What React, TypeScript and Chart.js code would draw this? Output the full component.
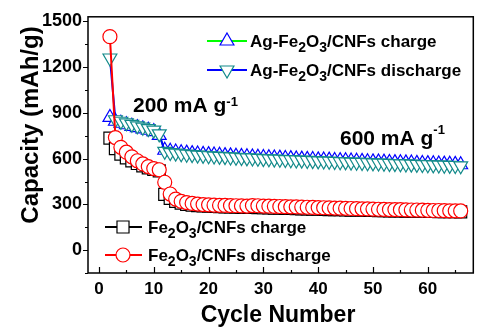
import React, { useEffect, useRef } from 'react';
import { Chart, registerables } from 'chart.js';
Chart.register(...registerables);

const cycles = [2,3,4,5,6,7,8,9,10,11,12,13,14,15,16,17,18,19,20,21,22,23,24,25,26,27,28,29,30,31,32,33,34,35,36,37,38,39,40,41,42,43,44,45,46,47,48,49,50,51,52,53,54,55,56,57,58,59,60,61,62,63,64,65,66];

const agCharge = [870,845,832,822,812,803,795,786,777,752,
  655,648,643,639,636,633,630,628,626,624,
  622,620,618,616,614,612,611,609,607,606,
  604,603,601,600,598,597,595,594,592,591,
  590,588,587,586,584,583,582,580,579,578,
  577,575,574,573,572,571,569,568,567,566,
  565,564,563,562,560];

const agDischarge = [1260,855,845,835,825,815,806,797,787,762,
  648,640,636,632,629,626,623,621,619,617,
  615,613,611,609,607,605,604,602,600,599,
  597,596,594,593,591,590,588,587,585,584,
  583,581,580,579,577,576,575,573,572,571,
  570,568,567,566,565,564,562,561,560,559,
  558,557,556,555,553];

const feCharge = [735,665,630,605,585,568,553,540,530,520,365,340,
  320,308,300,295,292,290,288,286,285,284,
  283,282,281,280,280,279,278,277,276,275,
  274,273,272,271,270,269,268,267,266,265,
  265,264,263,262,262,261,260,259,259,258,
  258,257,256,256,255,255,254,254,253,253,
  252,252,251];

const feDischarge = [1400,738,674,642,612,586,565,548,535,527,445,368,
  335,320,312,306,302,299,297,295,294,293,
  292,291,290,289,292,291,289,288,287,286,
  285,284,283,282,281,280,279,278,277,276,
  275,274,273,272,271,270,269,268,267,266,
  266,265,264,263,263,262,261,260,260,259,
  258,258,257];

const yMajorTicks = [0, 300, 600, 900, 1200, 1500];
const yMinorTicks = [-150, 150, 450, 750, 1050, 1350];
const xMajorTicks = [0, 10, 20, 30, 40, 50, 60];
const xMinorTicks = [5, 15, 25, 35, 45, 55, 65];

const FONT = '"Liberation Sans", Arial, sans-serif';

type Part = { t: string; sub?: boolean; sup?: boolean };

function drawRich(ctx: CanvasRenderingContext2D, parts: Part[], x: number, y: number, size: number, subSize: number, subShift: number, supShift: number) {
  let cx = x;
  ctx.textAlign = 'left';
  ctx.textBaseline = 'alphabetic';
  for (const p of parts) {
    const s = p.sub || p.sup ? subSize : size;
    ctx.font = `bold ${s}px ${FONT}`;
    const dy = p.sub ? subShift : p.sup ? -supShift : 0;
    ctx.fillText(p.t, cx, y + dy);
    cx += ctx.measureText(p.t).width;
  }
}

function drawMarker(ctx: CanvasRenderingContext2D, style: string, x: number, y: number, r: number, color: string) {
  ctx.save();
  ctx.beginPath();
  if (style === 'circle') {
    ctx.arc(x, y, r, 0, Math.PI * 2);
  } else if (style === 'rect') {
    const s = Math.SQRT1_2 * r;
    ctx.rect(x - s, y - s, 2 * s, 2 * s);
  } else if (style === 'triUp' || style === 'triDown') {
    let rad = style === 'triUp' ? 0 : Math.PI;
    for (let i = 0; i < 3; i++) {
      const px = x + Math.sin(rad) * r;
      const py = y - Math.cos(rad) * r;
      if (i === 0) ctx.moveTo(px, py); else ctx.lineTo(px, py);
      rad += (2 * Math.PI) / 3;
    }
    ctx.closePath();
  }
  ctx.fillStyle = '#ffffff';
  ctx.fill();
  ctx.strokeStyle = color;
  ctx.lineWidth = 1.2;
  ctx.stroke();
  ctx.restore();
}

const decoPlugin = {
  id: 'deco',
  afterDatasetsDraw(chart: any) {
    const ctx: CanvasRenderingContext2D = chart.ctx;
    const { left, right, top, bottom } = chart.chartArea;
    const xs = chart.scales.x;
    const ys = chart.scales.y;
    ctx.save();
    // frame
    ctx.strokeStyle = '#000';
    ctx.lineWidth = 1.5;
    ctx.strokeRect(left, top, right - left, bottom - top);
    // y ticks (outside)
    ctx.lineWidth = 1.2;
    ctx.beginPath();
    for (const v of yMajorTicks) {
      const py = Math.round(ys.getPixelForValue(v)) + 0.5;
      ctx.moveTo(left, py); ctx.lineTo(left - 5, py);
    }
    for (const v of yMinorTicks) {
      const py = Math.round(ys.getPixelForValue(v)) + 0.5;
      ctx.moveTo(left, py); ctx.lineTo(left - 3, py);
    }
    // x ticks (inside)
    for (const v of xMajorTicks) {
      const px = Math.round(xs.getPixelForValue(v)) + 0.5;
      ctx.moveTo(px, bottom); ctx.lineTo(px, bottom - 6);
    }
    for (const v of xMinorTicks) {
      const px = Math.round(xs.getPixelForValue(v)) + 0.5;
      ctx.moveTo(px, bottom); ctx.lineTo(px, bottom - 3);
    }
    ctx.stroke();

    ctx.fillStyle = '#000';
    // axis titles
    ctx.font = `bold 23px ${FONT}`;
    ctx.textAlign = 'center';
    ctx.textBaseline = 'alphabetic';
    ctx.fillText('Cycle Number', 278, 322);
    ctx.save();
    ctx.translate(38, 125);
    ctx.rotate(-Math.PI / 2);
    ctx.font = `bold 24px ${FONT}`;
    ctx.textAlign = 'center';
    ctx.fillText('Capacity (mAh/g)', 0, 0);
    ctx.restore();

    // annotations
    drawRich(ctx, [{ t: '200 mA g' }, { t: '-1', sup: true }], 133, 112, 21, 13, 0, 6);
    drawRich(ctx, [{ t: '600 mA g' }, { t: '-1', sup: true }], 340, 145, 21, 13, 0, 11);

    // legend top-right
    const legTop = [
      { y: 41, line: '#00ff00', marker: 'triUp', mc: '#0000ff', label: 'charge' },
      { y: 70, line: '#0000ff', marker: 'triDown', mc: '#138a8a', label: 'discharge' },
    ];
    for (const l of legTop) {
      ctx.strokeStyle = l.line;
      ctx.lineWidth = 2;
      ctx.beginPath(); ctx.moveTo(207, l.y); ctx.lineTo(247, l.y); ctx.stroke();
      drawMarker(ctx, l.marker, 227, l.y, 8, l.mc);
      ctx.fillStyle = '#000';
      drawRich(ctx, [{ t: 'Ag-Fe' }, { t: '2', sub: true }, { t: 'O' }, { t: '3', sub: true }, { t: '/CNFs ' + l.label }], 250, l.y + 6, 17, 14, 5, 0);
    }
    const legBot = [
      { y: 227, line: '#000000', marker: 'rect', mc: '#000000', label: 'charge' },
      { y: 255, line: '#ff0000', marker: 'circle', mc: '#ff0000', label: 'discharge' },
    ];
    for (const l of legBot) {
      ctx.strokeStyle = l.line;
      ctx.lineWidth = 2;
      ctx.beginPath(); ctx.moveTo(105, l.y); ctx.lineTo(142, l.y); ctx.stroke();
      drawMarker(ctx, l.marker, 123, l.y, l.marker === 'rect' ? 8.5 : 7, l.mc);
      ctx.fillStyle = '#000';
      drawRich(ctx, [{ t: 'Fe' }, { t: '2', sub: true }, { t: 'O' }, { t: '3', sub: true }, { t: '/CNFs ' + l.label }], 148, l.y + 6, 17, 14, 5, 0);
    }
    ctx.restore();
  },
};

function series(ys: number[]) {
  return cycles.map((c, i) => ({ x: c, y: ys[i] }));
}

export default function App() {
  const ref = useRef<HTMLCanvasElement | null>(null);
  useEffect(() => {
    if (!ref.current) return;
    Chart.defaults.font.family = FONT;
    const chart = new Chart(ref.current, {
      type: 'line',
      data: {
        datasets: [
          { label: 'Fe2O3/CNFs discharge', data: series(feDischarge), borderColor: '#ff0000', borderWidth: 2, pointStyle: 'circle', pointRadius: 7, pointBorderColor: '#ff0000', pointBackgroundColor: '#ffffff', pointBorderWidth: 1.2, order: 1 },
          { label: 'Fe2O3/CNFs charge', data: series(feCharge), borderColor: '#000000', borderWidth: 2, pointStyle: 'rect', pointRadius: 8.5, pointBorderColor: '#000000', pointBackgroundColor: '#ffffff', pointBorderWidth: 1.2, order: 2 },
          { label: 'Ag-Fe2O3/CNFs discharge', data: series(agDischarge), borderColor: '#0000ff', borderWidth: 2, pointStyle: 'triangle', rotation: 180, pointRadius: 8, pointBorderColor: '#138a8a', pointBackgroundColor: '#ffffff', pointBorderWidth: 1.2, order: 3 },
          { label: 'Ag-Fe2O3/CNFs charge', data: series(agCharge), borderColor: '#00ff00', borderWidth: 2, pointStyle: 'triangle', pointRadius: 8, pointBorderColor: '#0000ff', pointBackgroundColor: '#ffffff', pointBorderWidth: 1.2, order: 4 },
        ] as any,
      },
      options: {
        animation: false,
        responsive: false,
        maintainAspectRatio: false,
        layout: { padding: { left: 0, right: 4, top: 11, bottom: 0 } },
        plugins: { legend: { display: false }, tooltip: { enabled: false } },
        elements: { line: { tension: 0 } },
        scales: {
          x: {
            type: 'linear',
            min: -2,
            max: 68.3,
            grid: { display: false, drawTicks: false },
            border: { display: false },
            afterBuildTicks: (s: any) => { s.ticks = xMajorTicks.map((v) => ({ value: v })); },
            afterFit: (s: any) => { s.height = 54; },
            ticks: { color: '#000', font: { size: 17, weight: 'bold' }, padding: 6, maxRotation: 0, autoSkip: false, callback: (v: any) => String(v) },
          },
          y: {
            type: 'linear',
            min: -150,
            max: 1530,
            grid: { display: false, drawTicks: false },
            border: { display: false },
            afterBuildTicks: (s: any) => { s.ticks = yMajorTicks.map((v) => ({ value: v })); },
            afterFit: (s: any) => { s.width = 88; },
            ticks: { color: '#000', font: { size: 18, weight: 'bold' }, padding: 6, autoSkip: false, callback: (v: any) => String(v) },
          },
        },
      } as any,
      plugins: [decoPlugin],
    });
    return () => chart.destroy();
  }, []);
  return (
    <div style={{ position: 'absolute', left: 0, top: 0, width: 483, height: 327, background: '#fff' }}>
      <canvas ref={ref} width={483} height={327} style={{ width: 483, height: 327, display: 'block' }} />
    </div>
  );
}
